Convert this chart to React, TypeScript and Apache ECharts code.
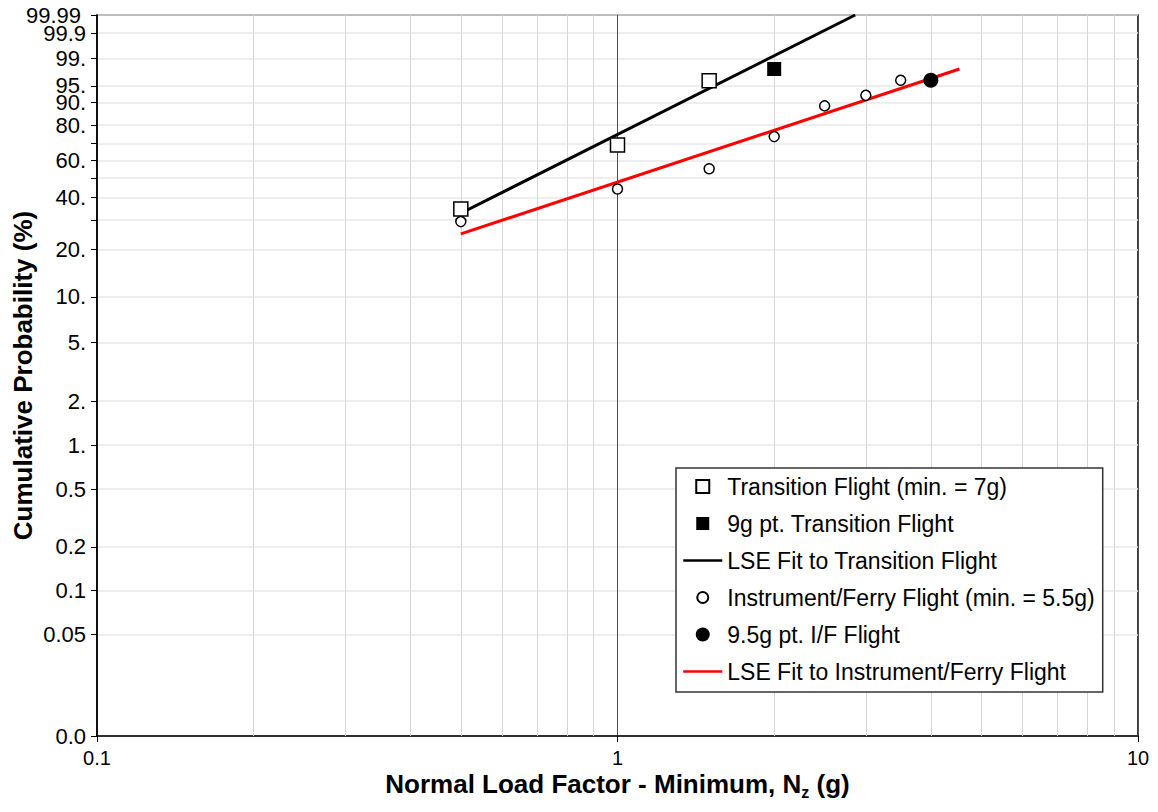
import React, { useEffect, useRef } from "react";
import * as echarts from "echarts";

// ---------- data ----------
const yTickPct = [0.01, 0.05, 0.1, 0.2, 0.5, 1, 2, 5, 10, 20, 40, 60, 80, 90, 95, 99, 99.9];
const yTickLabels = ["0.0", "0.05", "0.1", "0.2", "0.5", "1.", "2.", "5.", "10.", "20.", "40.", "60.", "80.", "90.", "95.", "99.", "99.9"];
const yTopPct = [99.99];
const yTopLabels = ["99.99"];
const yMinorPct = [30, 50, 70];
const xMinorValues = [0.2, 0.3, 0.4, 0.5, 0.6, 0.7, 0.8, 0.9, 2, 3, 4, 5, 6, 7, 8, 9];

const transitionX = [0.5, 1.0, 1.5];
const transitionPct = [34.6, 69.0, 96.1];
const transition9gX = [2.0];
const transition9gPct = [98.0];
const transitionFitX = [0.5, 2.862];
const transitionFitPct = [32.8, 99.99];

const ferryX = [0.5, 1.0, 1.5, 2.0, 2.5, 3.0, 3.5];
const ferryPct = [29.4, 44.2, 55.3, 73.8, 88.7, 92.4, 96.2];
const ferry95X = [4.0];
const ferry95Pct = [96.2];
const ferryFitX = [0.5, 4.54];
const ferryFitPct = [24.9, 98.0];

const NAMES = [
  "Transition Flight (min. = 7g)",
  "9g pt. Transition Flight",
  "LSE Fit to Transition Flight",
  "Instrument/Ferry Flight (min. = 5.5g)",
  "9.5g pt. I/F Flight",
  "LSE Fit to Instrument/Ferry Flight",
];

// Weibull probability transform
const weib = (pct: number) => Math.log(-Math.log(1 - pct / 100));
const pairs = (xs: number[], ps: number[]) => xs.map((x, i) => [x, weib(ps[i])]);

const FONT = "'Liberation Sans', Arial, sans-serif";

// legend icons (extra move-to points keep the icon box 14x14)
const ICON_SQUARE = "path://M0,0M14,14M0.5,0.5h13v13h-13z";
const ICON_SMALL_CIRCLE = "path://M0,0M14,14M1.5,7a5.5,5.5 0 1,0 11,0a5.5,5.5 0 1,0 -11,0z";
const ICON_BIG_CIRCLE = "path://M0,0M14,14M0,7a7,7 0 1,0 14,0a7,7 0 1,0 -14,0z";

const makeLabelFor = (vals: number[], labels: string[]) => (v: number) => {
  let best = 0;
  let bd = Infinity;
  vals.forEach((lv, i) => {
    const d = Math.abs(lv - v);
    if (d < bd) {
      bd = d;
      best = i;
    }
  });
  return bd < 1e-6 ? labels[best] : "";
};

export default function App() {
  const ref = useRef<HTMLDivElement>(null);
  useEffect(() => {
    if (!ref.current) return;
    const chart = echarts.init(ref.current, undefined, { renderer: "svg" });
    const labelVals = yTickPct.map(weib);
    const topVals = yTopPct.map(weib);
    const gridVals = [...yTickPct, ...yTopPct, ...yMinorPct].map(weib).sort((a, b) => a - b);
    const yMin = weib(0.01);
    const yMax = weib(99.99);
    const hiddenSymbol = { color: "transparent", borderColor: "transparent", borderWidth: 0, opacity: 0 };
    const labelStyle = { fontSize: 22, fontFamily: FONT, color: "#000" };
    const option: any = {
      animation: false,
      backgroundColor: "#fff",
      textStyle: { fontFamily: FONT },
      grid: {
        left: 97,
        right: 20,
        top: 15,
        bottom: 76,
        containLabel: false,
        outerBoundsMode: "none",
        show: true,
        borderColor: "#000",
        borderWidth: 1.5,
        backgroundColor: "transparent",
      },
      legend: {
        orient: "vertical",
        left: 676,
        top: 468,
        padding: [7, 8, 9, 6],
        itemWidth: 39,
        itemHeight: 14,
        itemGap: 14,
        symbolKeepAspect: true,
        borderColor: "#333",
        borderWidth: 1.5,
        backgroundColor: "#fff",
        textStyle: { fontSize: 23, fontFamily: FONT, color: "#000", lineHeight: 23 },
        selectedMode: false,
        data: [
          { name: NAMES[0], icon: ICON_SQUARE },
          { name: NAMES[1], icon: ICON_SQUARE },
          { name: NAMES[2], itemStyle: hiddenSymbol, lineStyle: { width: 2.5, color: "#000" } },
          { name: NAMES[3], icon: ICON_SMALL_CIRCLE },
          { name: NAMES[4], icon: ICON_BIG_CIRCLE },
          { name: NAMES[5], itemStyle: hiddenSymbol, lineStyle: { width: 2.5, color: "#ff0000" } },
        ],
      },
      xAxis: {
        type: "log",
        logBase: 10,
        min: 0.1,
        max: 10,
        axisLine: { show: true, onZero: false, lineStyle: { color: "#000", width: 1.5 } },
        axisTick: { show: true, inside: false, length: 6, lineStyle: { color: "#000" } },
        axisLabel: {
          fontSize: 20,
          fontFamily: FONT,
          color: "#000",
          margin: 12,
          showMinLabel: true,
          showMaxLabel: true,
          formatter: (v: number) => String(Number(v.toPrecision(3))),
        },
        splitLine: { show: true, lineStyle: { color: "#4d4d4d", width: 1 } },
        name: "Normal Load Factor - Minimum, N{sub|z} (g)",
        nameLocation: "middle",
        nameGap: 32,
        nameMoveOverlap: false,
        nameTextStyle: {
          fontSize: 26,
          fontWeight: "bold",
          fontFamily: FONT,
          color: "#000",
          rich: {
            sub: { fontSize: 16, fontWeight: "bold", fontFamily: FONT, color: "#000", padding: [16, 0, 0, 0] },
          },
        },
      },
      yAxis: [
        {
          type: "value",
          min: yMin,
          max: yMax,
          axisLine: { show: true, onZero: false, lineStyle: { color: "#000", width: 1.5 } },
          axisTick: { show: true, inside: false, length: 6, lineStyle: { color: "#000" }, customValues: gridVals },
          axisLabel: {
            ...labelStyle,
            customValues: labelVals,
            showMinLabel: true,
            showMaxLabel: true,
            hideOverlap: false,
            margin: 11,
            formatter: makeLabelFor(labelVals, yTickLabels),
          },
          splitLine: { show: true, lineStyle: { color: "#e8e8e8", width: 1.5 } },
          name: "Cumulative Probability (%)",
          nameLocation: "middle",
          nameGap: 61,
          nameMoveOverlap: false,
          nameTextStyle: { fontSize: 26, fontWeight: "bold", fontFamily: FONT, color: "#000" },
        },
        {
          type: "value",
          position: "left",
          min: yMin,
          max: yMax,
          axisLine: { show: false, onZero: false },
          axisTick: { show: false },
          splitLine: { show: false },
          axisLabel: {
            ...labelStyle,
            customValues: topVals,
            showMinLabel: true,
            showMaxLabel: true,
            margin: 16,
            formatter: makeLabelFor(topVals, yTopLabels),
          },
        },
      ],
      series: [
        {
          name: "minor-grid",
          type: "line",
          data: [],
          silent: true,
          z: 1,
          markLine: {
            silent: true,
            z: 1,
            symbol: "none",
            label: { show: false },
            lineStyle: { color: "#d6d6d6", width: 1, type: "solid" },
            emphasis: { disabled: true },
            data: xMinorValues.map((v) => ({ xAxis: v })),
          },
        },
        {
          name: NAMES[0],
          type: "scatter",
          z: 4,
          symbol: "rect",
          symbolSize: 14,
          itemStyle: { color: "#fff", borderColor: "#000", borderWidth: 1.5, opacity: 1 },
          data: pairs(transitionX, transitionPct),
          emphasis: { disabled: true },
        },
        {
          name: NAMES[1],
          type: "scatter",
          z: 4,
          symbol: "rect",
          symbolSize: 14,
          itemStyle: { color: "#000", opacity: 1 },
          data: pairs(transition9gX, transition9gPct),
          emphasis: { disabled: true },
        },
        {
          name: NAMES[2],
          type: "line",
          z: 3,
          symbol: "none",
          lineStyle: { color: "#000", width: 3 },
          itemStyle: { color: "#000" },
          data: pairs(transitionFitX, transitionFitPct),
          emphasis: { disabled: true },
        },
        {
          name: NAMES[3],
          type: "scatter",
          z: 4,
          symbol: "circle",
          symbolSize: 10,
          itemStyle: { color: "#fff", borderColor: "#000", borderWidth: 1.5, opacity: 1 },
          data: pairs(ferryX, ferryPct),
          emphasis: { disabled: true },
        },
        {
          name: NAMES[4],
          type: "scatter",
          z: 4,
          symbol: "circle",
          symbolSize: 15,
          itemStyle: { color: "#000", opacity: 1 },
          data: pairs(ferry95X, ferry95Pct),
          emphasis: { disabled: true },
        },
        {
          name: NAMES[5],
          type: "line",
          z: 3,
          symbol: "none",
          lineStyle: { color: "#ff0000", width: 3 },
          itemStyle: { color: "#ff0000" },
          data: pairs(ferryFitX, ferryFitPct),
          emphasis: { disabled: true },
        },
      ],
    };
    chart.setOption(option);
    return () => chart.dispose();
  }, []);
  return <div ref={ref} style={{ width: 1158, height: 812, position: "absolute", left: 0, top: 0 }} />;
}
